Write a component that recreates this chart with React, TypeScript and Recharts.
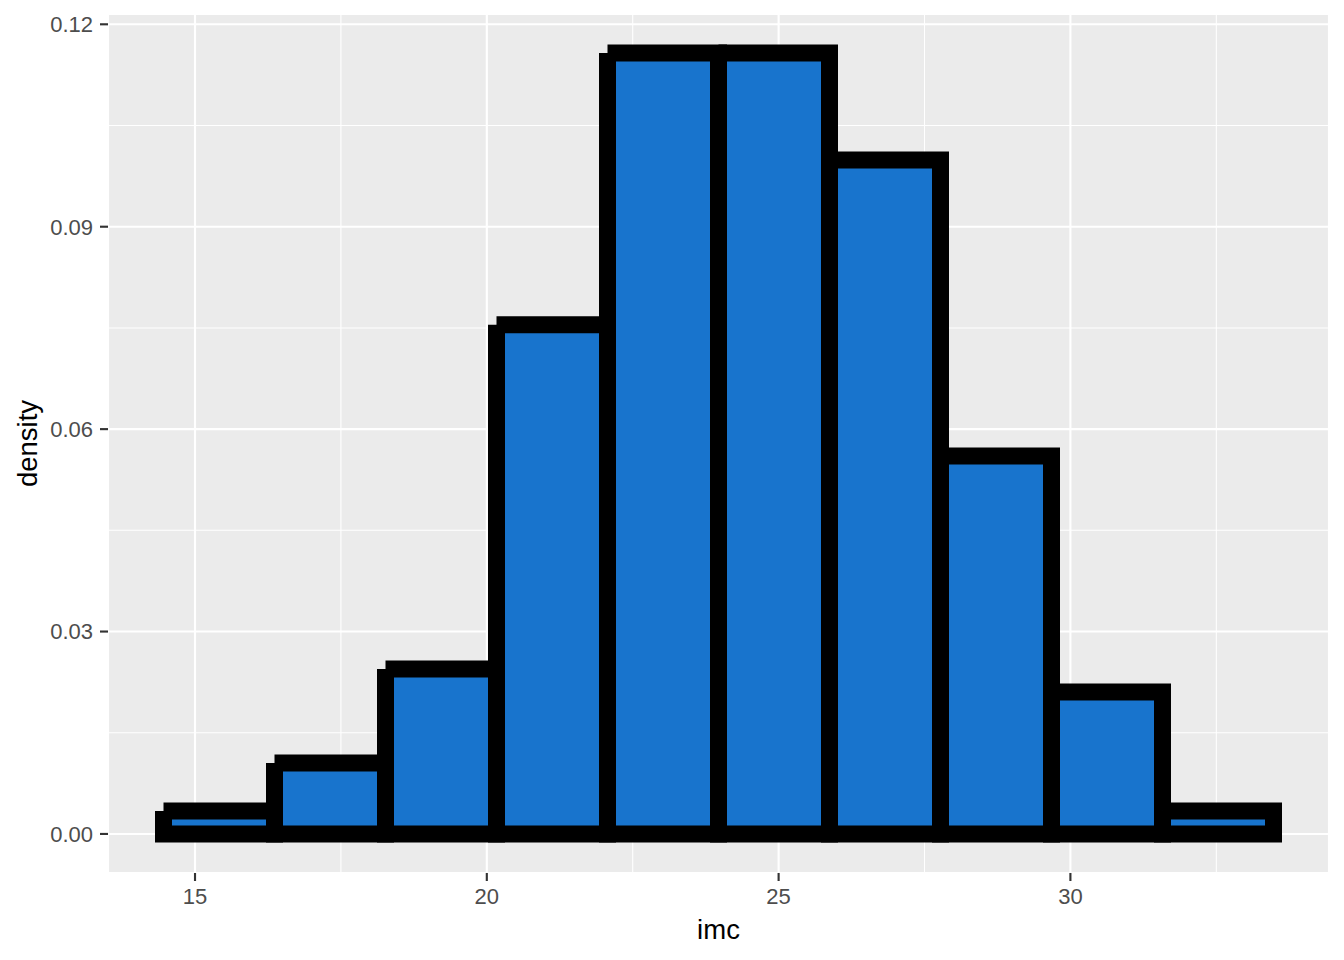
import React from 'react';
import { ComposedChart, Bar, XAxis, YAxis, CartesianGrid, Label } from 'recharts';

// Histogram of imc (density), 10 bins
const binMids = [15.411, 17.313, 19.215, 21.117, 23.019, 24.921, 26.823, 28.725, 30.627, 32.529];
const binWidth = 1.902;
const densities = [0.00341, 0.01052, 0.02445, 0.07546, 0.11574, 0.11574, 0.09988, 0.05602, 0.02104, 0.00341];

const xTicks = [15, 20, 25, 30];
const xMinorTicks = [17.5, 22.5, 27.5, 32.5];
const yTicks = [0, 0.03, 0.06, 0.09, 0.12];
const yMinorTicks = [0.015, 0.045, 0.075, 0.105];

const data = binMids.map((mid, i) => ({ mid, density: densities[i] }));

const xLo = binMids[0] - binWidth / 2;
const xHi = binMids[binMids.length - 1] + binWidth / 2;
const xPad = (xHi - xLo) * 0.05;
const yMax = Math.max(...densities);
const yPad = yMax * 0.05;

const FILL = '#1874CD';

const HistBar = (props: any) => {
  const { x, y, width, height } = props;
  if (width == null || height == null) return null;
  return (
    <g>
      <rect x={x} y={y} width={width} height={height} fill={FILL} />
      <path
        d={`M${x},${y}H${x + width}V${y + height}H${x}V${y}`}
        fill="none"
        stroke="#000000"
        strokeWidth={17}
        strokeLinejoin="miter"
        strokeLinecap="butt"
      />
    </g>
  );
};

const XTitle = (props: any) => {
  const vb = props.viewBox || { x: 108, y: 873, width: 1221, height: 87 };
  return (
    <text x={vb.x + vb.width / 2} y={vb.y + 66} textAnchor="middle" fontSize={27.5} fill="#000000">
      imc
    </text>
  );
};

const YTitle = (props: any) => {
  const vb = props.viewBox || { x: 0, y: 14, width: 108, height: 859 };
  const cx = 36.5;
  const cy = vb.y + vb.height / 2;
  return (
    <text
      x={cx}
      y={cy}
      transform={`rotate(-90 ${cx} ${cy})`}
      textAnchor="middle"
      fontSize={27.5}
      fill="#000000"
    >
      density
    </text>
  );
};

export default function App() {
  return (
    <div
      style={{
        position: 'absolute',
        left: 0,
        top: 0,
        width: 1344,
        height: 960,
        background: '#ffffff',
        fontFamily: '"Liberation Sans", Arial, sans-serif',
      }}
    >
      <ComposedChart
        width={1344}
        height={960}
        data={data}
        margin={{ top: 14, right: 15, bottom: 0, left: 0 }}
        barCategoryGap={0}
        barGap={0}
      >
        <CartesianGrid
          fill="#EBEBEB"
          stroke="#FFFFFF"
          strokeWidth={1.07}
          horizontalValues={yMinorTicks}
          verticalValues={xMinorTicks}
        />
        <CartesianGrid stroke="#FFFFFF" strokeWidth={2.13} />
        <XAxis
          dataKey="mid"
          type="number"
          domain={[xLo - xPad, xHi + xPad]}
          ticks={xTicks}
          allowDataOverflow
          height={87}
          axisLine={false}
          tickSize={8}
          tickMargin={7}
          tickLine={{ stroke: '#333333', strokeWidth: 2.13 }}
          tick={{ fill: '#4D4D4D', fontSize: 22 }}
          interval={0}
        >
          <Label content={<XTitle />} />
        </XAxis>
        <YAxis
          type="number"
          domain={[-yPad, yMax + yPad]}
          ticks={yTicks}
          allowDataOverflow
          width={108}
          axisLine={false}
          tickSize={8}
          tickMargin={7}
          tickLine={{ stroke: '#333333', strokeWidth: 2.13 }}
          tick={{ fill: '#4D4D4D', fontSize: 22 }}
          tickFormatter={(v: number) => v.toFixed(2)}
          interval={0}
        >
          <Label content={<YTitle />} />
        </YAxis>
        <Bar dataKey="density" shape={<HistBar />} isAnimationActive={false} />
      </ComposedChart>
    </div>
  );
}
